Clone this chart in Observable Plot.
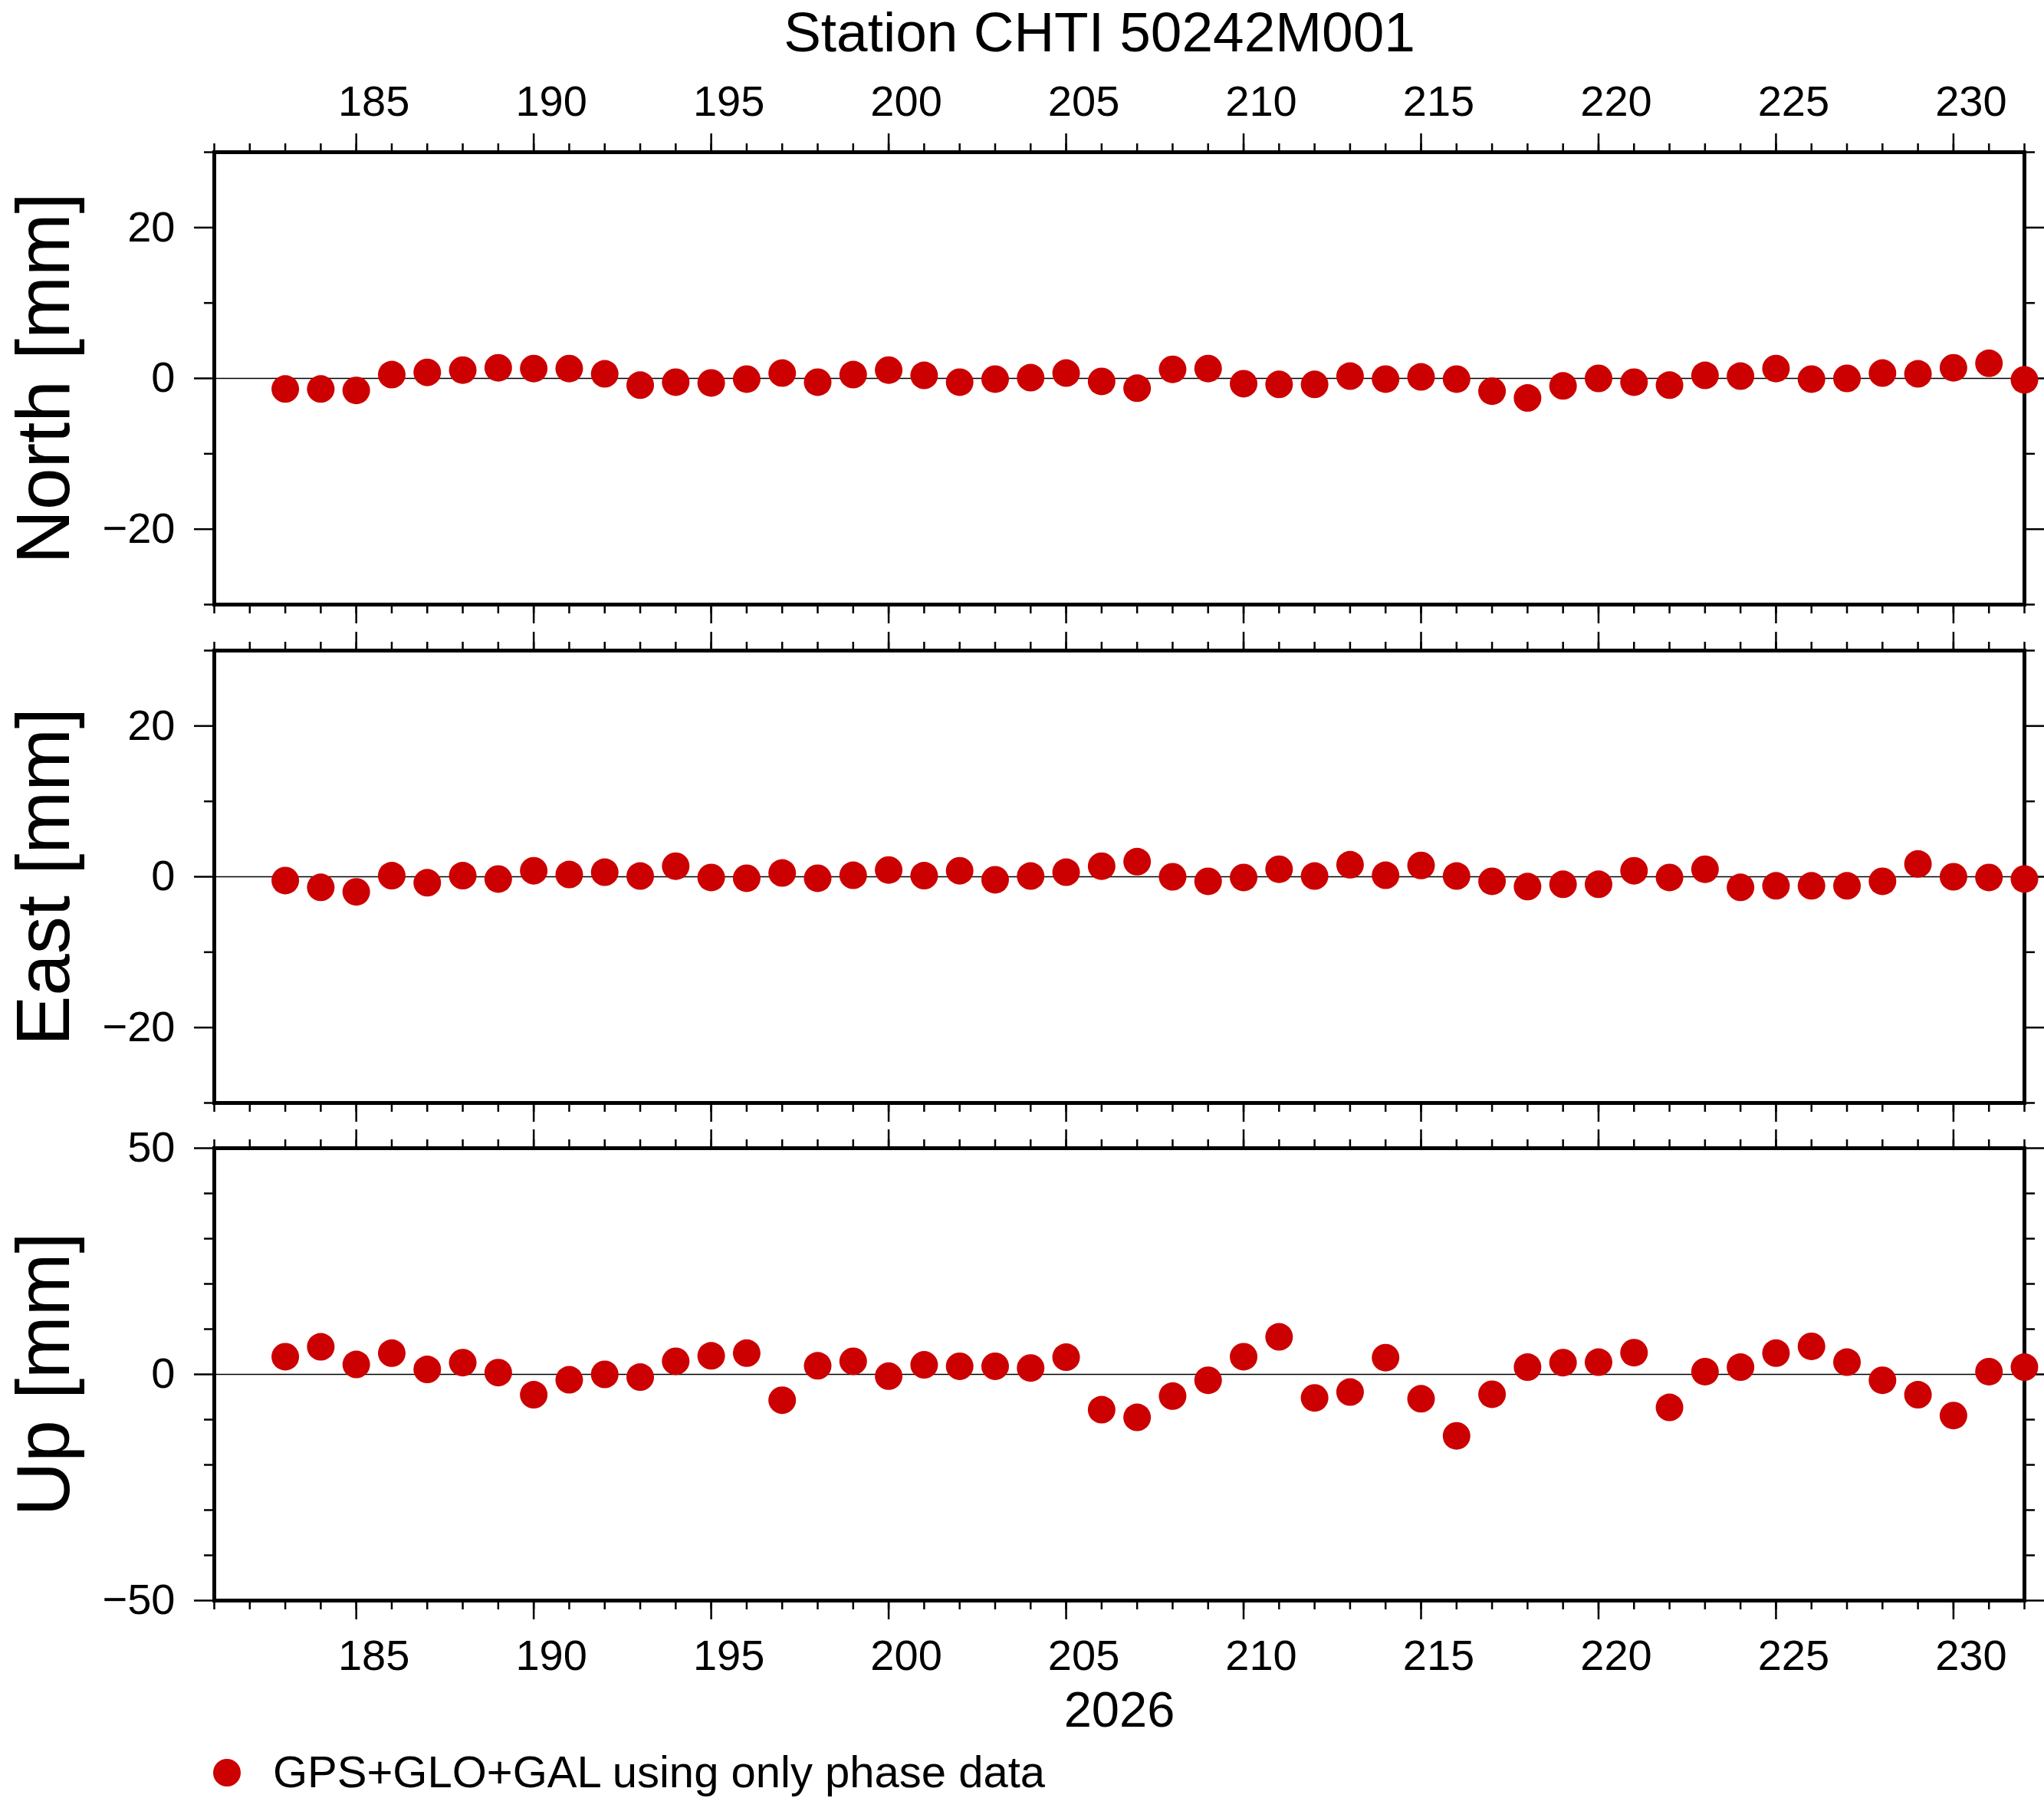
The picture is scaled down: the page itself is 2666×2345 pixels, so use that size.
<!DOCTYPE html>
<html>
<head>
<meta charset="utf-8">
<script src="https://cdn.jsdelivr.net/npm/d3@7"></script>
<script src="https://cdn.jsdelivr.net/npm/@observablehq/plot@0.6"></script>
<style>
  html, body { margin: 0; padding: 0; background: #fff; }
  body { width: 2666px; height: 2345px; overflow: hidden; font-family: "Liberation Sans", Arial, Helvetica, sans-serif; color: #000; }
  svg { display: block; }
  #title { position: relative; height: 62px; z-index: 2; }
  #title span { position: absolute; left: 1434px; top: 0; transform: translateX(-50%); font-size: 73px; line-height: 84px; white-space: nowrap; }
  #legend { position: relative; height: 78px; }
  #legend .dot { position: absolute; left: 278px; top: 27px; width: 36px; height: 36px; border-radius: 50%; background: #cc0000; }
  #legend .txt { position: absolute; left: 356px; top: 12px; font-size: 58px; line-height: 64px; white-space: nowrap; }
</style>
</head>
<body>
<div id="title"><span>Station CHTI 50242M001</span></div>
<div id="plots"></div>
<div id="legend"><div class="dot"></div><div class="txt">GPS+GLO+GAL using only phase data</div></div>
<script>
// Day of year 2026
const days = [183,184,185,186,187,188,189,190,191,192,
              193,194,195,196,197,198,199,200,201,202,
              203,204,205,206,207,208,209,210,211,212,
              213,214,215,216,217,218,219,220,221,222,
              223,224,225,226,227,228,229,230,231,232];

// North residuals [mm]
const north = [-1.4,-1.4,-1.6,0.5,0.8,1.1,1.4,1.3,1.3,0.6,
               -0.9,-0.5,-0.6,-0.1,0.7,-0.5,0.5,1.1,0.4,-0.5,
               -0.1,0.1,0.7,-0.4,-1.3,1.2,1.3,-0.7,-0.8,-0.8,
               0.3,-0.1,0.2,-0.1,-1.7,-2.6,-1.0,0.0,-0.5,-0.9,
               0.4,0.3,1.3,-0.1,0.0,0.7,0.6,1.4,2.0,-0.2];

// East residuals [mm]
const east = [-0.5,-1.4,-2.0,0.15,-0.8,0.15,-0.3,0.8,0.3,0.6,
              0.1,1.4,-0.1,-0.2,0.5,-0.2,0.2,0.9,0.15,0.8,
              -0.4,0.1,0.6,1.4,2.0,0.0,-0.6,-0.1,1.0,0.1,
              1.6,0.2,1.5,0.1,-0.6,-1.3,-1.0,-1.0,0.8,-0.1,
              1.0,-1.4,-1.2,-1.2,-1.2,-0.6,1.7,0.0,-0.1,-0.3];

// Up residuals [mm]
const up = [3.9,6.1,2.2,4.7,1.1,2.6,0.4,-4.5,-1.2,0.0,
            -0.6,2.9,4.1,4.7,-5.7,1.9,2.9,-0.4,2.1,1.8,
            1.8,1.4,3.8,-7.8,-9.5,-4.8,-1.3,3.9,8.3,-5.2,
            -3.9,3.7,-5.4,-13.6,-4.4,1.6,2.6,2.7,4.8,-7.3,
            0.6,1.6,4.7,6.2,2.7,-1.3,-4.5,-9.1,0.6,1.6];

// Axis ticks
const xDomain = [181, 232];
const xMajorTicks = [185,190,195,200,205,210,215,220,225,230];
const xMinorTicks = d3.range(181, 233);
const horizYMajor = [-20, 0, 20];
const horizYMinor = [-30, -10, 10, 30];
const upYMajor = [-50, 0, 50];
const upYMinor = [-40, -30, -20, -10, 10, 20, 30, 40];
const xLabel = "2026";

const RED = "#cc0000";
const TW = 2.5;
const blank = () => "";
const fmt = d3.format("d");

function panel({values, yDomain, yMajor, yMinor, label, topLabels, bottomLabels, height, marginTop, marginBottom}) {
  const data = days.map((d, i) => ({day: d, value: values[i]}));
  const marks = [
    Plot.ruleY([0], {stroke: "#000", strokeWidth: 1.5}),
    Plot.axisX(xMinorTicks, {anchor: "top", tickSize: 12, tickFormat: blank, strokeWidth: TW, label: null}),
    Plot.axisX(xMajorTicks, {anchor: "top", tickSize: 25, tickFormat: blank, strokeWidth: TW, label: null}),
    Plot.axisX(xMinorTicks, {anchor: "bottom", tickSize: 12, tickFormat: blank, strokeWidth: TW, label: null}),
    Plot.axisX(xMajorTicks, {anchor: "bottom", tickSize: 25, tickFormat: blank, strokeWidth: TW, label: null}),
    Plot.axisY(yMinor, {anchor: "left", tickSize: 13, tickFormat: blank, strokeWidth: TW, label: null}),
    Plot.axisY(yMajor, {anchor: "left", tickSize: 26, tickPadding: 25, fontSize: 56, tickFormat: fmt, strokeWidth: TW, label: null}),
    Plot.axisY(yMinor, {anchor: "right", tickSize: 13, tickFormat: blank, strokeWidth: TW, label: null}),
    Plot.axisY(yMajor, {anchor: "right", tickSize: 26, tickFormat: blank, strokeWidth: TW, label: null}),
    Plot.frame({stroke: "#000", strokeWidth: 5}),
    Plot.text([label], {text: d => d, frameAnchor: "left", dx: -190, rotate: -90, textAnchor: "middle", lineAnchor: "bottom", fontSize: 98, fill: "#000"})
  ];
  if (topLabels) {
    marks.push(Plot.axisX(xMajorTicks, {anchor: "top", tickSize: 0, tickPadding: 48, dx: 23, fontSize: 56, tickFormat: fmt, label: null}));
  }
  if (bottomLabels) {
    marks.push(Plot.axisX(xMajorTicks, {anchor: "bottom", tickSize: 0, tickPadding: 51, dx: 23, fontSize: 56, tickFormat: fmt, label: null}));
    marks.push(Plot.text([xLabel], {text: d => d, frameAnchor: "bottom", dy: 164, lineAnchor: "bottom", textAnchor: "middle", fontSize: 65, fill: "#000"}));
  }
  marks.push(Plot.dot(data, {x: "day", y: "value", r: 18, fill: RED, stroke: "none"}));
  return Plot.plot({
    width: 2666,
    height,
    marginLeft: 279,
    marginRight: 26,
    marginTop,
    marginBottom,
    style: {fontFamily: '"Liberation Sans", Arial, Helvetica, sans-serif', background: "#fff", color: "#000", overflow: "visible"},
    x: {domain: xDomain, label: null},
    y: {domain: yDomain, label: null},
    marks
  });
}

const host = document.getElementById("plots");
host.appendChild(panel({values: north, yDomain: [-30, 30], yMajor: horizYMajor, yMinor: horizYMinor, label: "North [mm]", topLabels: true, bottomLabels: false, height: 756, marginTop: 136, marginBottom: 30}));
host.appendChild(panel({values: east, yDomain: [-30, 30], yMajor: horizYMajor, yMinor: horizYMinor, label: "East [mm]", topLabels: false, bottomLabels: false, height: 650, marginTop: 30, marginBottom: 30}));
host.appendChild(panel({values: up, yDomain: [-50, 50], yMajor: upYMajor, yMinor: upYMinor, label: "Up [mm]", topLabels: false, bottomLabels: true, height: 799, marginTop: 29, marginBottom: 180}));
</script>
</body>
</html>
